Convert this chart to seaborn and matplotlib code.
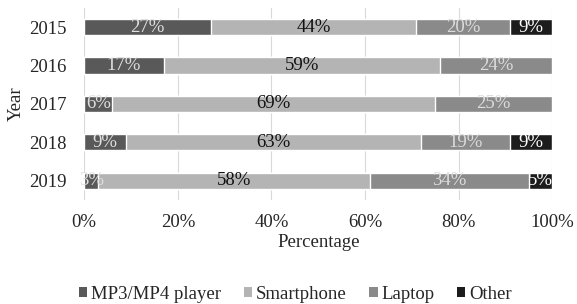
import numpy as np
import pandas as pd
import matplotlib
matplotlib.use("Agg")
import matplotlib.pyplot as plt
import seaborn as sns
from matplotlib.patches import Patch

# dados
anos = ["2015", "2016", "2017", "2018", "2019"]
mp3 = [27, 17, 6, 9, 3]
smartphone = [44, 59, 69, 63, 58]
laptop = [20, 24, 25, 19, 34]
outro = [9, 0, 0, 9, 5]

series = ["MP3/MP4 player", "Smartphone", "Laptop", "Other"]
cores = ["#595959", "#b4b4b4", "#8a8a8a", "#1c1c1c"]
cores_texto = ["#e0e0e0", "#111111", "#dcdcdc", "#ffffff"]

df = pd.DataFrame({"Year": anos, series[0]: mp3, series[1]: smartphone,
                   series[2]: laptop, series[3]: outro})
acum = df[series].cumsum(axis=1)

sns.set_style("white")
plt.rcParams["font.family"] = ["Liberation Serif", "DejaVu Serif"]
fs = 13.5

fig, ax = plt.subplots(figsize=(5.77, 3.04), dpi=100)
fig.subplots_adjust(left=0.146, right=0.957, top=0.974, bottom=0.342)

# desenha as camadas acumuladas, da maior para a menor
for i in range(len(series) - 1, -1, -1):
    sns.barplot(x=acum[series[i]], y=df["Year"], orient="h", color=cores[i],
                width=0.42, ax=ax, saturation=1, zorder=2)

# rotulos dos segmentos
for i, s in enumerate(series):
    for j, ano in enumerate(anos):
        v = df[s][j]
        if v == 0:
            continue
        centro = acum[s][j] - v / 2
        ax.text(centro, j, f"{v}%", ha="center", va="center",
                color=cores_texto[i], fontsize=fs, zorder=3)

ax.set_xlim(0, 100)
ax.set_xticks([0, 20, 40, 60, 80, 100])
ax.set_xticklabels([f"{t}%" for t in [0, 20, 40, 60, 80, 100]])
ax.grid(axis="x", color="#d9d9d9", linewidth=0.8, zorder=0)
ax.set_axisbelow(True)
for sp in ax.spines.values():
    sp.set_visible(False)
ax.tick_params(axis="both", labelsize=fs, length=0)
ax.tick_params(axis="y", pad=13)
ax.tick_params(axis="x", pad=10)
ax.set_xlabel("Percentage", fontsize=fs, labelpad=2)
ax.set_ylabel("Year", fontsize=fs, labelpad=3)

handles = [Patch(facecolor=c, edgecolor="none") for c in cores]
fig.legend(handles, series, loc="lower center", ncol=4, frameon=False,
           fontsize=fs, bbox_to_anchor=(0.512, -0.052), handlelength=0.45,
           handleheight=0.45, handletextpad=0.2, columnspacing=1.2)

fig.savefig("out.png", dpi=100)
